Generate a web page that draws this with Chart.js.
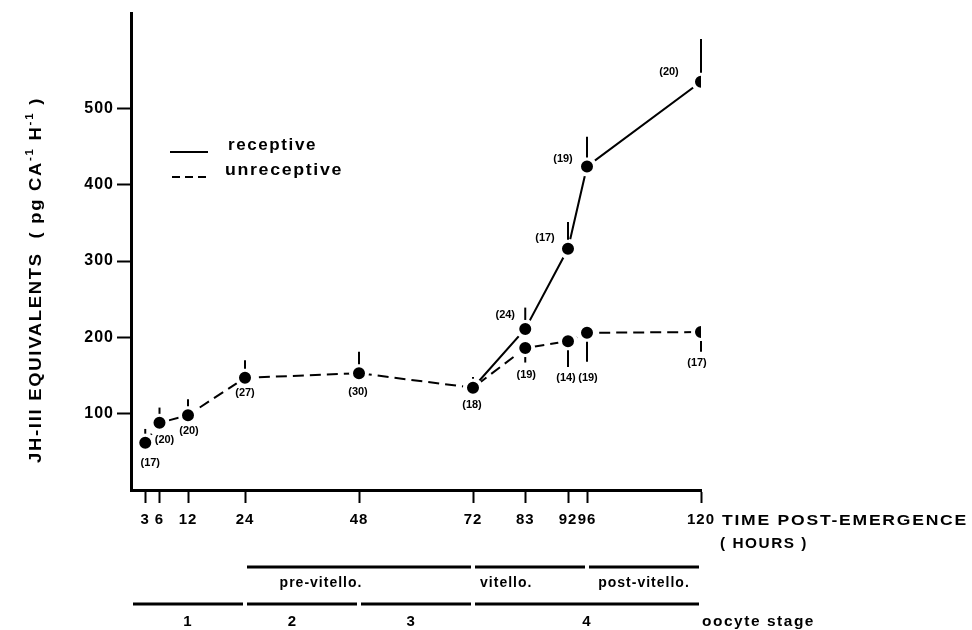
<!DOCTYPE html>
<html><head><meta charset="utf-8">
<script src="https://cdn.jsdelivr.net/npm/chart.js@4/dist/chart.umd.min.js"></script>
<style>html,body{margin:0;padding:0;background:#fff;}#wrap{position:relative;width:972px;height:630px;}</style>
</head><body><div id="wrap"><canvas id="c"></canvas></div>
<script>
// ---- data ----
const xTickHours = [3, 6, 12, 24, 48, 72, 83, 92, 96, 120];
const xTickLabels = ['3', '6', '12', '24', '48', '72', '83', '92', '96', '120'];
const yTickValues = [100, 200, 300, 400, 500];

const unreceptiveHours = [3, 6, 12, 24, 48, 72, 83, 92, 96, 120];
const unreceptiveValues = [62, 88, 98, 147, 153, 134, 186, 195, 206, 207];
const unreceptiveErrUp = [18, 20, 21, 23, 28, 14, 0, 0, 0, 0];
const unreceptiveErrDown = [0, 0, 0, 0, 0, 0, 19, 34, 38, 26];
const unreceptiveN = ['(17)', '(20)', '(20)', '(27)', '(30)', '(18)', '(19)', '(14)', '(19)', '(17)'];

const receptiveHours = [72, 83, 92, 96, 120];
const receptiveValues = [134, 211, 316, 424, 535];
const receptiveErrUp = [0, 28, 35, 39, 56];
const receptiveErrDown = [0, 0, 0, 0, 0];
const receptiveN = ['', '(24)', '(17)', '(19)', '(20)'];

const phaseNames = ['pre-vitello.', 'vitello.', 'post-vitello.'];
const phaseStart = [24, 72, 96];
const phaseEnd = [72, 96, 120];
const stageNames = ['1', '2', '3', '4'];
const stageStart = [0, 24, 48, 72];
const stageEnd = [24, 48, 72, 120];

// ---- styling / placement (pixels, not data) ----
const unreceptiveLabelOffset = [[5,20],[5,17],[1,16],[0,15],[-1,19],[-1,17],[1,27],[-2,37],[1,45],[-4,31]];
const receptiveLabelOffset = [null,[-20,-14],[-23,-11],[-24,-7],[-32,-10]];
const phaseLabelHour = [40, 79, 108];
const stageLabelHour = [12, 34, 59, 96];
const FONT = '"Liberation Sans", Arial, sans-serif';

const toXY = (hs, vs) => hs.map((h, i) => ({x: h, y: vs[i]}));

// draw bold text; if width given, stretch horizontally to that width
function txt(ctx, s, x, y, size, align, spacing, width) {
  ctx.save();
  ctx.font = 'bold ' + size + 'px ' + FONT;
  ctx.letterSpacing = (spacing || 0) + 'px';
  ctx.fillStyle = '#000';
  ctx.textBaseline = 'middle';
  if (width) {
    const w = ctx.measureText(s).width;
    const k = width / w;
    ctx.translate(x, y);
    ctx.scale(k, 1);
    ctx.textAlign = 'left';
    const startX = align === 'center' ? -w / 2 : (align === 'right' ? -w : 0);
    ctx.fillText(s, startX, 0);
  } else {
    ctx.textAlign = align || 'left';
    ctx.fillText(s, x, y);
  }
  ctx.restore();
}
function hline(ctx, x1, x2, y, w, dash) {
  ctx.save();
  ctx.strokeStyle = '#000';
  ctx.lineWidth = w;
  ctx.setLineDash(dash || []);
  ctx.beginPath(); ctx.moveTo(x1, y); ctx.lineTo(x2, y); ctx.stroke();
  ctx.restore();
}

const annotations = {
  id: 'annotations',
  beforeDraw(chart) { chart.ctx.letterSpacing = '1px'; },
  afterDatasetsDraw(chart) {
    const ctx = chart.ctx;
    const xs = chart.scales.x, ys = chart.scales.y;
    const sets = [
      [unreceptiveHours, unreceptiveValues, unreceptiveErrUp, unreceptiveErrDown],
      [receptiveHours, receptiveValues, receptiveErrUp, receptiveErrDown]
    ];
    ctx.save();
    ctx.strokeStyle = '#000'; ctx.lineWidth = 2;
    sets.forEach(([hs, vs, up, dn]) => {
      hs.forEach((h, i) => {
        const px = xs.getPixelForValue(h);
        const py = ys.getPixelForValue(vs[i]);
        const gap = 9;
        if (up[i] > 0) {
          const pe = ys.getPixelForValue(vs[i] + up[i]);
          if (py - gap > pe) { ctx.beginPath(); ctx.moveTo(px, py - gap); ctx.lineTo(px, pe); ctx.stroke(); }
        }
        if (dn[i] > 0) {
          const pe = ys.getPixelForValue(vs[i] - dn[i]);
          if (py + gap < pe) { ctx.beginPath(); ctx.moveTo(px, py + gap); ctx.lineTo(px, pe); ctx.stroke(); }
        }
      });
    });
    ctx.restore();
    unreceptiveHours.forEach((h, i) => {
      const o = unreceptiveLabelOffset[i];
      txt(ctx, unreceptiveN[i], xs.getPixelForValue(h) + o[0], ys.getPixelForValue(unreceptiveValues[i]) + o[1], 11, 'center', 0);
    });
    receptiveHours.forEach((h, i) => {
      const o = receptiveLabelOffset[i];
      if (!o || !receptiveN[i]) return;
      txt(ctx, receptiveN[i], xs.getPixelForValue(h) + o[0], ys.getPixelForValue(receptiveValues[i]) + o[1], 11, 'center', 0);
    });
  },
  afterDraw(chart) {
    const ctx = chart.ctx;
    const xs = chart.scales.x;
    const X = v => xs.getPixelForValue(v);
    // legend
    hline(ctx, 170, 208, 152, 2);
    txt(ctx, 'receptive', 228, 146, 16, 'left', 1.5, 89);
    hline(ctx, 172, 208, 177, 2, [8, 5]);
    txt(ctx, 'unreceptive', 225, 171, 16, 'left', 1.5, 118);
    // y axis title with superscripts
    ctx.save();
    ctx.translate(37, 280);
    ctx.rotate(-Math.PI / 2);
    const segs = [['JH-III EQUIVALENTS  ( pg CA', 0], ['-1', 1], [' H', 0], ['-1', 1], [' )', 0]];
    ctx.fillStyle = '#000';
    ctx.textBaseline = 'middle';
    ctx.letterSpacing = '1.5px';
    let total = 0;
    segs.forEach(s => { ctx.font = 'bold ' + (s[1] ? 10 : 16) + 'px ' + FONT; total += ctx.measureText(s[0]).width; });
    const k = 366 / total;
    ctx.scale(k, 1);
    let cx = -total / 2;
    segs.forEach(s => {
      ctx.font = 'bold ' + (s[1] ? 10 : 16) + 'px ' + FONT;
      ctx.fillText(s[0], cx, s[1] ? -7 : 0);
      cx += ctx.measureText(s[0]).width;
    });
    ctx.restore();
    // x axis title
    txt(ctx, 'TIME POST-EMERGENCE', 722, 521, 15, 'left', 1.5, 246);
    txt(ctx, '( HOURS )', 720, 544, 15, 'left', 1.5, 88);
    // phase bands
    phaseNames.forEach((n, i) => {
      hline(ctx, X(phaseStart[i]) + 2, X(phaseEnd[i]) - 2, 567, 3);
      txt(ctx, n, X(phaseLabelHour[i]), 583, 14, 'center', 1);
    });
    // oocyte stages
    stageNames.forEach((n, i) => {
      hline(ctx, X(stageStart[i]) + 2, X(stageEnd[i]) - 2, 604, 3);
      txt(ctx, n, X(stageLabelHour[i]), 622, 15, 'center', 1);
    });
    txt(ctx, 'oocyte stage', 702, 622, 15, 'left', 1.5, 113);
  }
};

const pointStyle = {
  pointRadius: 8, pointHoverRadius: 8,
  pointBackgroundColor: '#000', pointBorderColor: '#fff', pointBorderWidth: 4
};

new Chart(document.getElementById('c'), {
  type: 'line',
  data: {
    datasets: [
      Object.assign({
        label: 'receptive',
        data: toXY(receptiveHours, receptiveValues),
        borderColor: '#000', borderWidth: 2, tension: 0
      }, pointStyle),
      Object.assign({
        label: 'unreceptive',
        data: toXY(unreceptiveHours, unreceptiveValues),
        borderColor: '#000', borderWidth: 2, borderDash: [11, 6], tension: 0
      }, pointStyle)
    ]
  },
  options: {
    responsive: true,
    maintainAspectRatio: false,
    animation: false,
    events: [],
    layout: { padding: { top: 13, right: 271, left: 0, bottom: 0 } },
    plugins: { legend: { display: false }, tooltip: { enabled: false } },
    scales: {
      x: {
        type: 'linear', min: 0, max: 120,
        afterBuildTicks: s => { s.ticks = xTickHours.map(v => ({ value: v })); },
        afterFit: s => { s.height = 140; },
        ticks: {
          autoSkip: false, maxRotation: 0, padding: 8, color: '#000',
          font: { family: FONT, size: 15, weight: 'bold' },
          callback: v => xTickLabels[xTickHours.indexOf(v)]
        },
        grid: { drawOnChartArea: false, drawTicks: true, tickLength: 13, tickColor: '#000', tickWidth: 2 },
        border: { display: true, color: '#000', width: 3 }
      },
      y: {
        type: 'linear', min: 0, max: 625,
        afterBuildTicks: s => { s.ticks = yTickValues.map(v => ({ value: v })); },
        afterFit: s => { s.width = 131; },
        ticks: {
          padding: 3, color: '#000',
          font: { family: FONT, size: 16, weight: 'bold' }
        },
        grid: { drawOnChartArea: false, drawTicks: true, tickLength: 14, tickColor: '#000', tickWidth: 2 },
        border: { display: true, color: '#000', width: 3 }
      }
    }
  },
  plugins: [annotations]
});
</script>
</body></html>
